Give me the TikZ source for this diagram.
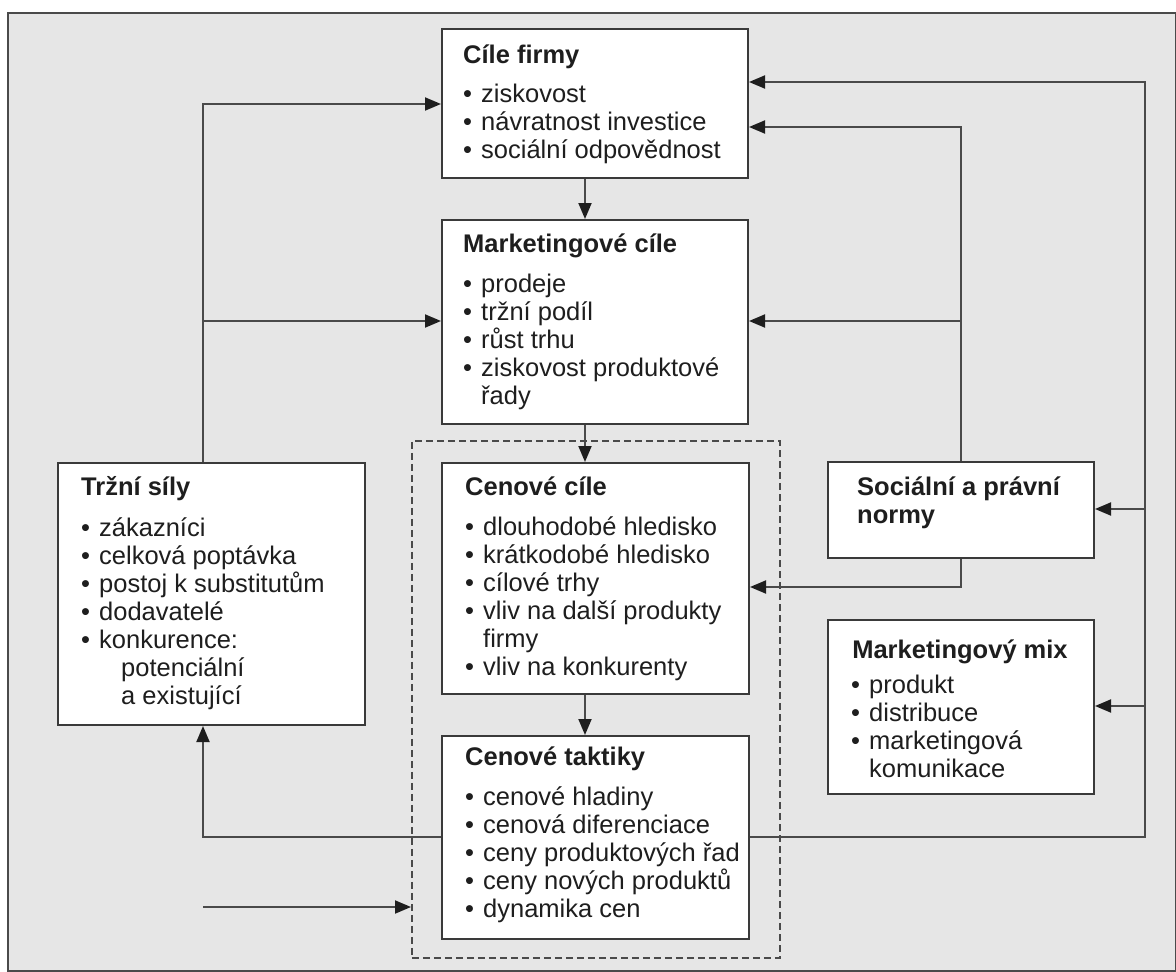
\documentclass[tikz,border=0pt]{standalone}
\usepackage{fontspec}
\setmainfont{Liberation Sans}
\usetikzlibrary{arrows.meta,calc}
\definecolor{bg}{HTML}{E6E6E6}
\definecolor{ln}{HTML}{4A4A4A}
\definecolor{bx}{HTML}{3A3A3A}
\definecolor{tx}{HTML}{1E1E1E}
\newcommand\bu{\makebox[18pt][l]{\textbullet}}
\newcommand\ind[1][18pt]{\hspace*{#1}}
\newcommand\lns[1]{\parbox[t]{300pt}{#1}}
\tikzset{
  box/.style={draw=bx, line width=2pt, fill=white, inner sep=0pt, anchor=north west},
  dashbox/.style={draw=ln, line width=1.6pt, dash pattern=on 7pt off 4pt, inner sep=0pt, anchor=north west},
  ttl/.style={anchor=base west, inner sep=0pt, text=tx, font=\bfseries\fontsize{25.5}{28}\selectfont},
  itm/.style={anchor=base west, inner sep=0pt, text=tx, font=\fontsize{25.5}{28}\selectfont},
  arr/.style={draw=ln, line width=1.9pt, -{Triangle[length=16pt,width=13pt,color=tx]}},
  conn/.style={draw=ln, line width=1.9pt}
}
\begin{document}
\begin{tikzpicture}[x=1pt,y=-1pt]
\useasboundingbox (0,0) rectangle (1176,972);
\draw[ln, line width=1.8pt, fill=bg] (8,13) rectangle (1176,971);

% boxes
\node[dashbox, minimum width=368pt, minimum height=517pt] (dash) at (411,440) {};
\node[box, minimum width=306pt, minimum height=149pt] (cile) at (441,28) {};
\node[box, minimum width=306pt, minimum height=204pt] (mkt) at (441,219) {};
\node[box, minimum width=307pt, minimum height=231pt] (cenc) at (441,462) {};
\node[box, minimum width=307pt, minimum height=203pt] (takt) at (441,735) {};
\node[box, minimum width=307pt, minimum height=262pt] (trz) at (57,462) {};
\node[box, minimum width=266pt, minimum height=96pt] (soc) at (827,461) {};
\node[box, minimum width=266pt, minimum height=174pt] (mix) at (827,619) {};

% texts
\node[ttl] (cileT) at (463,63) {Cíle firmy};
\node[itm] (cileI) at (463,102) {\lns{\bu ziskovost\\ \bu návratnost investice\\ \bu sociální odpovědnost}};

\node[ttl] (mktT) at (463,252) {Marketingové cíle};
\node[itm] (mktI) at (463,292) {\lns{\bu prodeje\\ \bu tržní podíl\\ \bu růst trhu\\ \bu ziskovost produktové\\ \ind řady}};

\node[ttl] (cencT) at (465,495) {Cenové cíle};
\node[itm] (cencI) at (465,535) {\lns{\bu dlouhodobé hledisko\\ \bu krátkodobé hledisko\\ \bu cílové trhy\\ \bu vliv na další produkty\\ \ind firmy\\ \bu vliv na konkurenty}};

\node[ttl] (taktT) at (465,765) {Cenové taktiky};
\node[itm] (taktI) at (465,805) {\lns{\bu cenové hladiny\\ \bu cenová diferenciace\\ \bu ceny produktových řad\\ \bu ceny nových produktů\\ \bu dynamika cen}};

\node[ttl] (trzT) at (81,495) {Tržní síly};
\node[itm] (trzI) at (81,536) {\lns{\bu zákazníci\\ \bu celková poptávka\\ \bu postoj k substitutům\\ \bu dodavatelé\\ \bu konkurence:\\ \ind[40pt]potenciální\\ \ind[40pt]a existující}};

\node[ttl] (socT) at (857,495) {\lns{Sociální a právní\\ normy}};

\node[ttl, anchor=base] (mixT) at (960,658) {Marketingový mix};
\node[itm] (mixI) at (851,693) {\lns{\bu produkt\\ \bu distribuce\\ \bu marketingová\\ \ind komunikace}};

% helper coordinates
\coordinate (xL) at (203,0);
\coordinate (xM) at (585,0);
\coordinate (xS) at (960,0);
\coordinate (xR) at (1145,0);
\coordinate (yA) at (0,104);
\coordinate (yB) at (0,321);
\coordinate (yC1) at (0,82);
\coordinate (yC2) at (0,127);
\coordinate (ySo) at (0,509);
\coordinate (yMx) at (0,706);
\coordinate (yCc) at (0,587);
\coordinate (yT) at (0,837);
\coordinate (fs) at (203,907);

% connectors
\draw[arr] (cile.south -| xM) -- (mkt.north -| xM);
\draw[arr] (mkt.south -| xM) -- (cenc.north -| xM);
\draw[arr] (cenc.south -| xM) -- (takt.north -| xM);

\draw[arr] (trz.north -| xL) |- (cile.west |- yA);
\draw[arr] (xL |- yB) -- (mkt.west |- yB);
\draw[arr] (takt.west |- yT) -| (trz.south -| xL);
\draw[arr] (fs) -- (dash.west |- fs);

\draw[arr] (soc.north) |- (cile.east |- yC2);
\draw[arr] (xS |- yB) -- (mkt.east |- yB);
\draw[arr] (soc.south) |- (cenc.east |- yCc);

\draw[arr] (takt.east |- yT) -| (xR |- yC1) -- (cile.east |- yC1);
\draw[arr] (xR |- ySo) -- (soc.east |- ySo);
\draw[arr] (xR |- yMx) -- (mix.east |- yMx);
\end{tikzpicture}
\end{document}
